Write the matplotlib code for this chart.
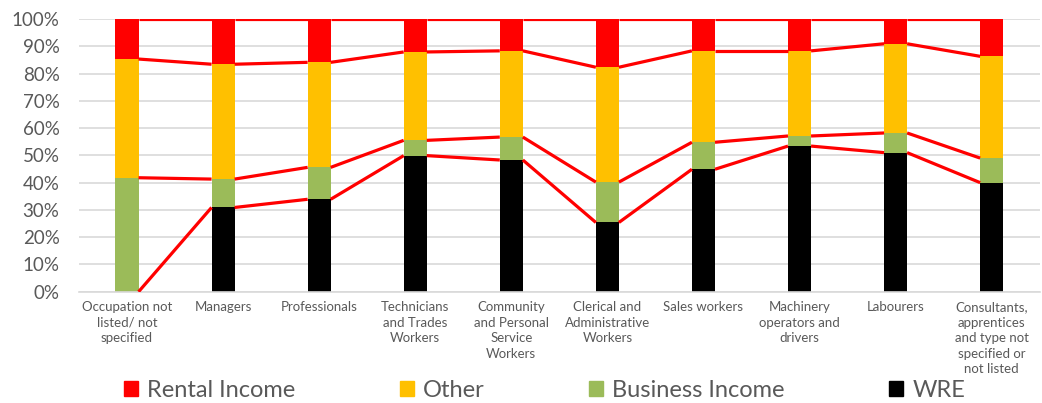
import matplotlib.pyplot as plt
import numpy as np
from matplotlib.patches import Patch

# Income mix by occupation (% of each group)
occupations = ["Occupation not\nlisted/ not\nspecified", "Managers", "Professionals",
               "Technicians\nand Trades\nWorkers", "Community\nand Personal\nService\nWorkers",
               "Clerical and\nAdministrative\nWorkers", "Sales workers",
               "Machinery\noperators and\ndrivers", "Labourers",
               "Consultants,\napprentices\nand type not\nspecified or\nnot listed"]
wre = [0.0, 30.9, 33.9, 49.9, 48.3, 25.4, 44.9, 53.4, 51.0, 40.0]
business = [41.8, 10.4, 11.7, 5.6, 8.4, 14.8, 9.9, 3.7, 7.2, 9.0]
other = [43.5, 42.1, 38.5, 32.4, 31.6, 42.1, 33.5, 31.2, 32.7, 37.3]
rental = [14.7, 16.6, 15.9, 12.1, 11.7, 17.7, 11.7, 11.7, 9.1, 13.7]

series = [("WRE", wre, "#000000"),
          ("Business Income", business, "#9BBB59"),
          ("Other", other, "#FFC000"),
          ("Rental Income", rental, "#FF0000")]

plt.rcParams['font.family'] = ['Lato', 'DejaVu Sans']
grey = "#595959"

fig = plt.figure(figsize=(10.42, 4.03), dpi=100)
ax = fig.add_axes([0.0758, 0.276, 0.922, 0.677])

x = np.arange(len(occupations))
w = 0.24
bottom = np.zeros(len(x))
for name, vals, col in series:
    vals = np.array(vals)
    ax.bar(x, vals, w, bottom=bottom, color=col, zorder=2)
    top = bottom + vals
    # series lines joining the segment tops of neighbouring bars
    for i in range(len(x) - 1):
        ax.plot([x[i] + w / 2, x[i + 1] - w / 2], [top[i], top[i + 1]],
                color="#FF0000", lw=2.3, solid_capstyle="butt", zorder=3)
    bottom = top

ax.set_xlim(-0.5, len(x) - 0.5)
ax.set_ylim(0, 100)
ax.set_yticks(np.arange(0, 101, 10))
ax.set_yticklabels([f"{v}%" for v in range(0, 101, 10)])
ax.set_xticks(x)
ax.set_xticklabels(occupations, fontsize=9.5, color=grey, linespacing=1.35)
ax.tick_params(axis="y", length=0, pad=14, labelsize=13.5, labelcolor=grey)
ax.tick_params(axis="x", length=0, pad=7)
ax.yaxis.grid(True, color="#D9D9D9", lw=1.2, zorder=0)
ax.set_axisbelow(True)
for s in ["top", "right", "left"]:
    ax.spines[s].set_visible(False)
ax.spines["bottom"].set_color("#D9D9D9")
ax.spines["bottom"].set_linewidth(1.2)

handles = [Patch(color="#FF0000"), Patch(color="#FFC000"),
           Patch(color="#9BBB59"), Patch(color="#000000")]
labels = ["Rental Income", "Other", "Business Income", "WRE"]
fig.legend(handles, labels, loc="center", bbox_to_anchor=(0.5226, 0.032), ncol=4,
           frameon=False, fontsize=17, labelcolor=grey, handlelength=0.6,
           handleheight=0.6, handletextpad=0.4, columnspacing=4.4)

fig.savefig("out.png", dpi=100)
